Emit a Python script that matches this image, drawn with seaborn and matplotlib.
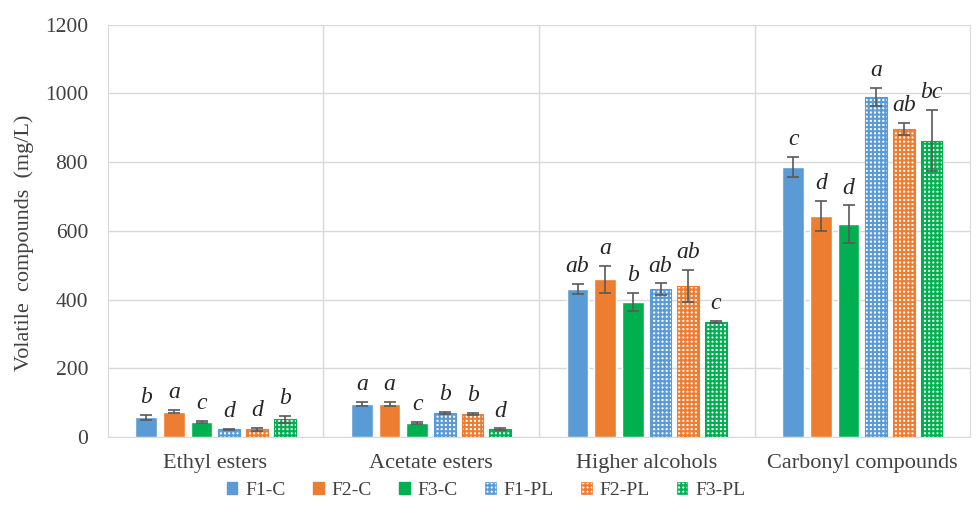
import matplotlib
matplotlib.use('Agg')
import pandas as pd
import matplotlib.pyplot as plt
import seaborn as sns
from matplotlib.patches import Patch

# chart values
categories = ['Ethyl esters', 'Acetate esters', 'Higher alcohols', 'Carbonyl compounds']
groups = ['F1-C', 'F2-C', 'F3-C', 'F1-PL', 'F2-PL', 'F3-PL']
means = {
    'F1-C':  [57, 96, 430, 786],
    'F2-C':  [74, 96, 459, 644],
    'F3-C':  [45, 42, 392, 620],
    'F1-PL': [22, 71, 430, 991],
    'F2-PL': [22, 67, 440, 896],
    'F3-PL': [52, 23, 336, 863],
}
errors = {
    'F1-C':  [6, 7, 15, 28],
    'F2-C':  [5, 7, 40, 44],
    'F3-C':  [3, 3, 26, 54],
    'F1-PL': [2, 3, 17, 26],
    'F2-PL': [5, 4, 47, 18],
    'F3-PL': [10, 2, 3, 90],
}
letters = {
    'F1-C':  ['b', 'a', 'ab', 'c'],
    'F2-C':  ['a', 'a', 'a', 'd'],
    'F3-C':  ['c', 'c', 'b', 'd'],
    'F1-PL': ['d', 'b', 'ab', 'a'],
    'F2-PL': ['d', 'b', 'ab', 'ab'],
    'F3-PL': ['b', 'd', 'c', 'bc'],
}
colors = ['#5B9BD5', '#ED7D31', '#00B050', '#5B9BD5', '#ED7D31', '#00B050']

rows = []
for g in groups:
    for c, v in zip(categories, means[g]):
        rows.append({'category': c, 'group': g, 'value': v})
df = pd.DataFrame(rows)

sns.set_style('white')
plt.rcParams['font.family'] = ['Liberation Serif', 'DejaVu Serif']
plt.rcParams['hatch.linewidth'] = 1.5

fig = plt.figure(figsize=(9.78, 5.16), dpi=100)
ax = fig.add_axes([0.110, 0.153, 0.882, 0.799])

sns.barplot(data=df, x='category', y='value', hue='group', hue_order=groups,
            order=categories, palette=colors, saturation=1, width=0.77, gap=0.21,
            errorbar=None, ax=ax, legend=False, zorder=3)

# patterned bars for the PL series, error bars and letters
for i, g in enumerate(groups):
    cont = ax.containers[i]
    for j, bar in enumerate(cont.patches):
        if g.endswith('PL'):
            bar.set_facecolor('white')
            bar.set_edgecolor(colors[i])
            bar.set_hatch('++++')
            bar.set_linewidth(0.8)
        xc = bar.get_x() + bar.get_width() / 2
        ax.errorbar(xc, means[g][j], yerr=errors[g][j], fmt='none',
                    ecolor='#595959', elinewidth=1.2, capsize=4, capthick=1.2, zorder=4)
        ax.annotate(letters[g][j], (xc, means[g][j] + errors[g][j]),
                    xytext=(0, 5), textcoords='offset points', ha='center',
                    va='bottom', fontsize=17, style='italic', zorder=5)

ax.set_ylim(0, 1200)
ax.set_xlim(-0.5, 3.5)
ax.set_yticks(range(0, 1201, 200))
ax.yaxis.grid(True, color='#D9D9D9', linewidth=1, zorder=0)
for xb in [0.5, 1.5, 2.5]:
    ax.axvline(xb, color='#D9D9D9', linewidth=1, zorder=0)
for side in ['left', 'right', 'bottom']:
    ax.spines[side].set_color('#D9D9D9')
ax.spines['top'].set_visible(False)
ax.tick_params(axis='x', length=0, labelsize=16, colors='#404040', pad=12)
ax.tick_params(axis='y', length=0, labelsize=15.5, colors='#404040', pad=14)
ax.set_xlabel('')
ax.set_ylabel('Volatile  compounds  (mg/L)', fontsize=16, color='#404040')
ax.yaxis.set_label_coords(-0.085, 0.47)

handles = []
for i, g in enumerate(groups):
    if g.endswith('PL'):
        handles.append(Patch(facecolor='white', edgecolor=colors[i], hatch='++++', linewidth=0.5, label=g))
    else:
        handles.append(Patch(facecolor=colors[i], edgecolor=colors[i], label=g))
fig.legend(handles=handles, loc='center', bbox_to_anchor=(0.497, 0.05), ncol=6,
           frameon=False, fontsize=14, handlelength=0.55, handleheight=0.55,
           handletextpad=0.4, columnspacing=1.4, labelcolor='#404040')

fig.savefig('out.png', dpi=100)
